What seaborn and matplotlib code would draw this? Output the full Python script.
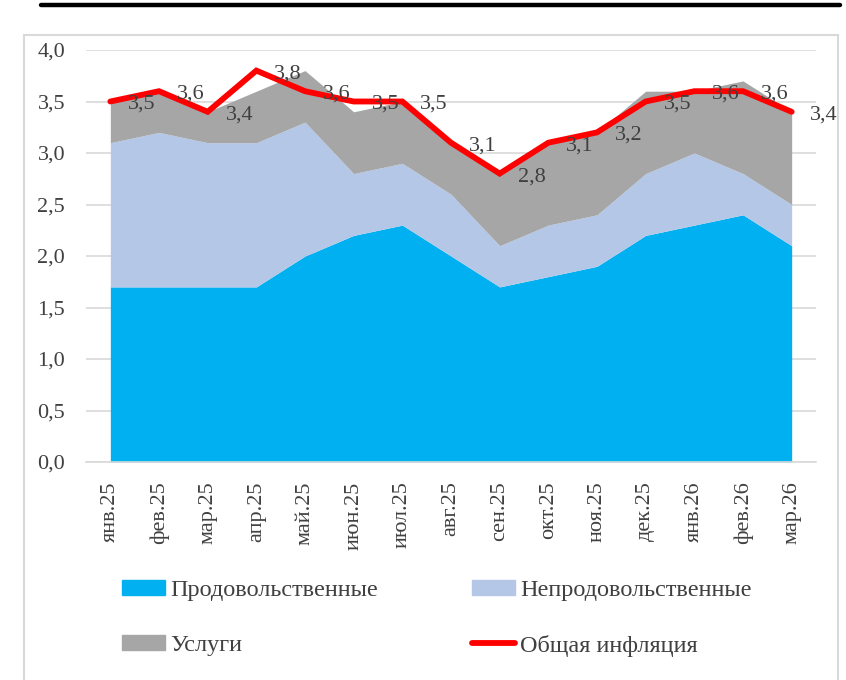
import numpy as np
import pandas as pd
import seaborn as sns
import matplotlib.pyplot as plt
from matplotlib.lines import Line2D
from matplotlib.patches import Rectangle, Patch

months = ["янв.25", "фев.25", "мар.25", "апр.25", "май.25", "июн.25", "июл.25",
          "авг.25", "сен.25", "окт.25", "ноя.25", "дек.25", "янв.26", "фев.26", "мар.26"]
food = [1.7, 1.7, 1.7, 1.7, 2.0, 2.2, 2.3, 2.0, 1.7, 1.8, 1.9, 2.2, 2.3, 2.4, 2.1]
nonfood = [1.4, 1.5, 1.4, 1.4, 1.3, 0.6, 0.6, 0.6, 0.4, 0.5, 0.5, 0.6, 0.7, 0.4, 0.4]
services = [0.4, 0.4, 0.3, 0.5, 0.5, 0.6, 0.6, 0.5, 0.7, 0.8, 0.8, 0.8, 0.6, 0.9, 0.9]
total = [3.5, 3.6, 3.4, 3.8, 3.6, 3.5, 3.5, 3.1, 2.8, 3.1, 3.2, 3.5, 3.6, 3.6, 3.4]

sns.set_theme(style="white")
plt.rcParams["font.family"] = ["Liberation Serif", "DejaVu Serif"]

TXT = "#404040"
GRID = "#d9d9d9"
FS = 16
FS_LEG = 17.5

df = pd.DataFrame({"month": months, "pos": np.arange(len(months)), "total": total})

fig = plt.figure(figsize=(8.46, 6.8), dpi=100)
ax = fig.add_axes([86 / 846, 1 - 462 / 680, 730 / 846, 412 / 680])

x = df["pos"].values
ax.stackplot(x, food, nonfood, services,
             colors=["#00b0f0", "#b4c7e7", "#a6a6a6"], linewidth=0, zorder=2)
sns.lineplot(data=df, x="pos", y="total", color="#ff0000", linewidth=4.2,
             ax=ax, zorder=3, solid_joinstyle="miter", legend=False)

for xi, v in zip(x, total):
    ax.annotate(f"{v:.1f}".replace(".", ","), (xi, v), xytext=(18, -3),
                textcoords="offset pixels", ha="left", va="center",
                fontsize=FS, color=TXT, zorder=4, annotation_clip=False)

ax.set_xlim(-0.5, len(months) - 0.5)
ax.set_ylim(0, 4.0)
ax.set_yticks(np.arange(0, 4.01, 0.5))
ax.set_yticklabels([f"{t:.1f}".replace(".", ",") for t in np.arange(0, 4.01, 0.5)],
                   fontsize=FS, color=TXT)
ax.set_xticks(x)
ax.set_xticklabels(months, rotation=90, fontsize=FS, color=TXT)
ax.set_xticks(np.arange(-0.5, len(months)), minor=True)
ax.tick_params(axis="y", length=0, pad=15)
ax.tick_params(axis="x", which="major", length=0, pad=14)
ax.tick_params(axis="x", which="minor", length=6, width=1.1, color=GRID, direction="out")
ax.set_xlabel("")
ax.set_ylabel("")

ax.grid(axis="y", color=GRID, linewidth=1.2, zorder=0)
ax.set_axisbelow(True)
for s in ["top", "right", "left"]:
    ax.spines[s].set_visible(False)
ax.spines["bottom"].set_color(GRID)
ax.spines["bottom"].set_linewidth(1.2)

# legend: two columns placed separately
leg_kw = dict(loc="upper left", frameon=False, fontsize=FS_LEG, handlelength=1.77,
              handleheight=0.6, handletextpad=0.22, labelspacing=1.37, borderpad=0,
              borderaxespad=0, labelcolor=TXT)
leg1 = fig.legend([Patch(color="#00b0f0"), Patch(color="#a6a6a6")],
                  ["Продовольственные", "Услуги"],
                  bbox_to_anchor=(122 / 846, 1 - 580 / 680), **leg_kw)
leg2 = fig.legend([Patch(color="#b4c7e7"), Line2D([], [], color="#ff0000", linewidth=4.2)],
                  ["Непродовольственные", "Общая инфляция"],
                  bbox_to_anchor=(472 / 846, 1 - 580 / 680), **leg_kw)

# outer frame and top rule
fig.add_artist(Rectangle((24 / 846, -0.05), (838 - 24) / 846, 1.05 - 35 / 680,
                         transform=fig.transFigure, fill=False, edgecolor=GRID, linewidth=1.5))
fig.add_artist(Line2D([41 / 846, 840 / 846], [1 - 5 / 680, 1 - 5 / 680],
                      transform=fig.transFigure, color="black", linewidth=3.2))

fig.savefig("out.png", dpi=100)
